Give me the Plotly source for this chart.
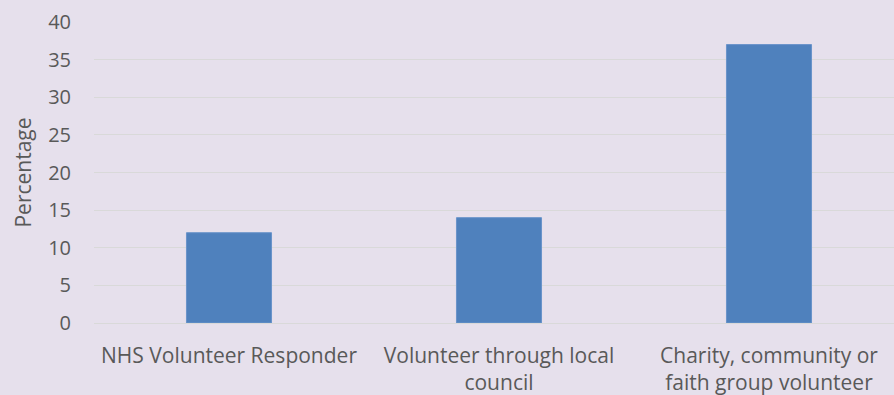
import plotly.graph_objects as go

categories = [
    "NHS Volunteer Responder",
    "Volunteer through local<br>council",
    "Charity, community or<br>faith group volunteer",
]
percentages = [12, 14, 37]
y_ticks = [0, 5, 10, 15, 20, 25, 30, 35, 40]

BG = "#E6E0EC"
TEXT = "#595959"
GRID = "#D9D9D9"

fig = go.Figure(
    go.Bar(
        x=list(range(len(categories))),
        y=percentages,
        width=0.315,
        marker=dict(color="#4F81BD", line=dict(color="#6A94CA", width=1)),
        hoverinfo="skip",
    )
)

fig.update_layout(
    width=894,
    height=395,
    margin=dict(l=94, r=0, t=22, b=72),
    paper_bgcolor=BG,
    plot_bgcolor=BG,
    font=dict(family="Open Sans", size=20, color=TEXT),
    showlegend=False,
)

fig.update_xaxes(
    tickmode="array",
    tickvals=list(range(len(categories))),
    ticktext=categories,
    range=[-0.5, 2.463],
    showgrid=False,
    zeroline=False,
    showline=False,
    ticks="",
    ticklabelstandoff=18,
    tickfont=dict(size=21, color=TEXT),
)

fig.update_yaxes(
    range=[0, 40],
    tickmode="array",
    tickvals=y_ticks,
    showgrid=True,
    gridcolor=GRID,
    gridwidth=1,
    zeroline=True,
    zerolinecolor=GRID,
    zerolinewidth=1,
    showline=False,
    ticks="",
    ticklabelstandoff=22,
    tickfont=dict(size=20, color=TEXT),
    title=dict(text="Percentage", font=dict(size=21, color=TEXT), standoff=10),
)

fig.write_html("out.html")
